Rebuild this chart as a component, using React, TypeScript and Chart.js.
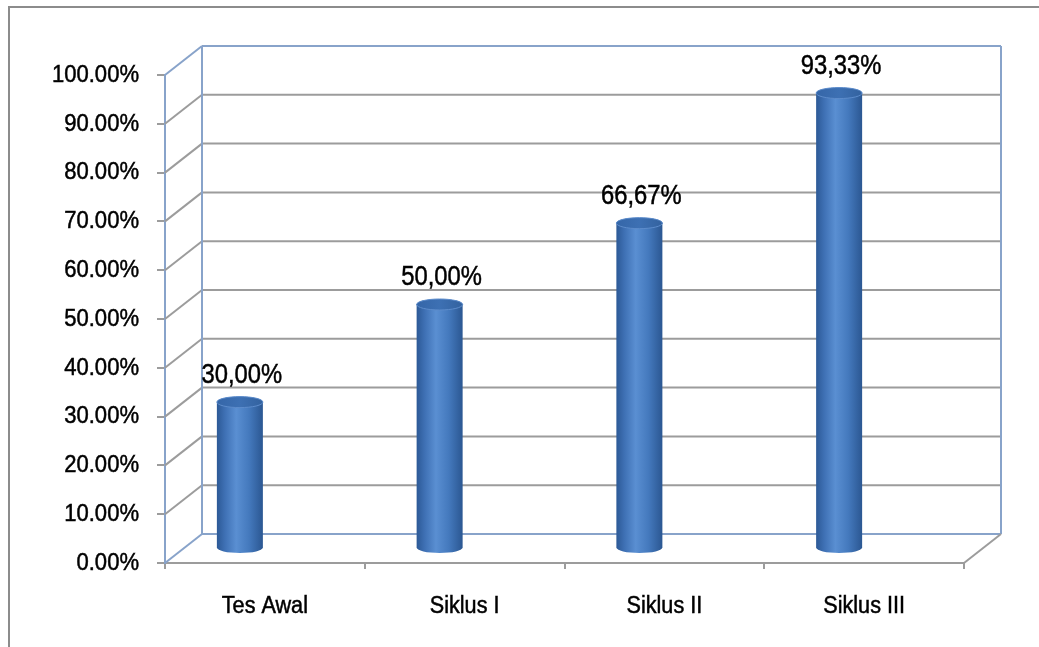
import { useEffect, useRef } from "react";
import { Chart, registerables } from "chart.js";

Chart.register(...registerables);

// Percentage of students reaching the target, per test round
const categories = ["Tes Awal", "Siklus I", "Siklus II", "Siklus III"];
const percentages = [30.0, 50.0, 66.67, 93.33];

// Value axis
const axisMin = 0;
const axisMax = 100;
const axisStep = 10;

const FONT = '"Liberation Sans", Arial, sans-serif';

// Pseudo-3D look: offset of the back wall relative to the front plane
const DEPTH_X = 37;
const DEPTH_Y = -29;
// Cylinders stand half-way into the box, slightly left of the slot centre
const BAR_SHIFT_X = -25;
const CAP_RY = 5.5;

const GRID_GREY = "#9c9c9c";
const EDGE_BLUE = "#88a3ca";
const FRAME_GREY = "#8c8c8c";

const fmtAxis = (v: number) => v.toFixed(2) + "%";
const fmtLabel = (v: number) => v.toFixed(2).replace(".", ",") + "%";

function line(ctx: CanvasRenderingContext2D, x1: number, y1: number, x2: number, y2: number) {
  ctx.beginPath();
  ctx.moveTo(x1, y1);
  ctx.lineTo(x2, y2);
  ctx.stroke();
}

// Narrow text: regular face squeezed horizontally, lightly outlined for weight
function narrowText(
  ctx: CanvasRenderingContext2D,
  text: string,
  x: number,
  y: number,
  size: number,
  squeeze: number,
  align: CanvasTextAlign
) {
  ctx.save();
  ctx.translate(x, y);
  ctx.scale(squeeze, 1);
  ctx.font = `${size}px ${FONT}`;
  ctx.fillStyle = "#000000";
  ctx.strokeStyle = "#000000";
  ctx.lineWidth = 0.5;
  ctx.textAlign = align;
  ctx.textBaseline = "middle";
  ctx.fillText(text, 0, 0);
  ctx.strokeText(text, 0, 0);
  ctx.restore();
}

const boxPlugin = {
  id: "box3d",
  beforeDraw(chart: any) {
    const ctx: CanvasRenderingContext2D = chart.ctx;
    ctx.save();
    ctx.strokeStyle = FRAME_GREY;
    ctx.lineWidth = 2;
    ctx.beginPath();
    ctx.moveTo(9, chart.height);
    ctx.lineTo(9, 7);
    ctx.lineTo(chart.width, 7);
    ctx.stroke();
    ctx.restore();
  },
  beforeDatasetsDraw(chart: any) {
    const ctx: CanvasRenderingContext2D = chart.ctx;
    const xs = chart.scales.x;
    const ys = chart.scales.y;
    const l = xs.left;
    const r = xs.right;
    const t = ys.top;
    const b = ys.bottom;
    ctx.save();
    ctx.lineWidth = 2;
    ys.ticks.forEach((tk: any) => {
      const py = ys.getPixelForValue(tk.value);
      const edge = tk.value === axisMin || tk.value === axisMax;
      ctx.strokeStyle = edge ? EDGE_BLUE : GRID_GREY;
      line(ctx, l, py, l + DEPTH_X, py + DEPTH_Y);
      line(ctx, l + DEPTH_X, py + DEPTH_Y, r + DEPTH_X, py + DEPTH_Y);
    });
    ctx.strokeStyle = EDGE_BLUE;
    line(ctx, l + DEPTH_X, t + DEPTH_Y, l + DEPTH_X, b + DEPTH_Y);
    line(ctx, r + DEPTH_X, t + DEPTH_Y, r + DEPTH_X, b + DEPTH_Y);
    ctx.strokeStyle = GRID_GREY;
    line(ctx, r, b, r + DEPTH_X, b + DEPTH_Y);
    ctx.restore();
  },
  afterDraw(chart: any) {
    const ctx: CanvasRenderingContext2D = chart.ctx;
    const xs = chart.scales.x;
    const ys = chart.scales.y;
    // value axis labels
    ys.ticks.forEach((tk: any, i: number) => {
      narrowText(ctx, fmtAxis(tk.value), ys.right - 26, ys.getPixelForTick(i), 24.5, 0.9, "right");
    });
    // category labels
    xs.ticks.forEach((_tk: any, i: number) => {
      narrowText(ctx, String(chart.data.labels[i]), xs.getPixelForTick(i), xs.top + 44, 23.5, 0.92, "center");
    });
  },
};

function cylinderGeometry(el: any) {
  const p = el.getProps(["x", "y", "base", "width"], true);
  const cx = p.x + BAR_SHIFT_X;
  const rx = p.width / 2;
  const top = p.y + DEPTH_Y / 2;
  const base = p.base + DEPTH_Y / 2;
  return { cx, rx, top, base };
}

const cylinderPlugin = {
  id: "cylinders",
  beforeDatasetDraw(chart: any, args: any) {
    const ctx: CanvasRenderingContext2D = chart.ctx;
    args.meta.data.forEach((el: any) => {
      const { cx, rx, top, base } = cylinderGeometry(el);
      ctx.save();
      const g = ctx.createLinearGradient(cx - rx, 0, cx + rx, 0);
      g.addColorStop(0, "#2c5996");
      g.addColorStop(0.18, "#3f71b5");
      g.addColorStop(0.42, "#5a8fd2");
      g.addColorStop(0.7, "#4479bd");
      g.addColorStop(1, "#2b5792");
      ctx.fillStyle = g;
      ctx.beginPath();
      ctx.moveTo(cx - rx, top);
      ctx.lineTo(cx - rx, base);
      ctx.ellipse(cx, base, rx, CAP_RY, 0, Math.PI, 0, true);
      ctx.lineTo(cx + rx, top);
      ctx.ellipse(cx, top, rx, CAP_RY, 0, 0, Math.PI, true);
      ctx.closePath();
      ctx.fill();

      const cg = ctx.createLinearGradient(cx - rx, 0, cx + rx, 0);
      cg.addColorStop(0, "#3566a8");
      cg.addColorStop(0.5, "#3d70b3");
      cg.addColorStop(1, "#33629f");
      ctx.fillStyle = cg;
      ctx.beginPath();
      ctx.ellipse(cx, top, rx, CAP_RY, 0, 0, Math.PI * 2);
      ctx.fill();
      ctx.strokeStyle = "#5d8ccb";
      ctx.lineWidth = 1;
      ctx.stroke();
      ctx.restore();
    });
    return false;
  },
  afterDatasetsDraw(chart: any) {
    const ctx: CanvasRenderingContext2D = chart.ctx;
    const meta = chart.getDatasetMeta(0);
    const values = chart.data.datasets[0].data as number[];
    meta.data.forEach((el: any, i: number) => {
      const { cx, top } = cylinderGeometry(el);
      narrowText(ctx, fmtLabel(values[i]), cx + 2, top - 27, 28, 0.85, "center");
    });
  },
};

export default function App() {
  const canvasRef = useRef<HTMLCanvasElement | null>(null);

  useEffect(() => {
    const canvas = canvasRef.current;
    if (!canvas) return;
    const chart = new Chart(canvas, {
      type: "bar",
      data: {
        labels: categories,
        datasets: [
          {
            data: percentages,
            backgroundColor: "#4a7ebf",
            barThickness: 46,
          },
        ],
      },
      options: {
        animation: false,
        responsive: false,
        events: [],
        layout: { padding: { top: 75, right: 75, left: 0, bottom: 0 } },
        plugins: {
          legend: { display: false },
          tooltip: { enabled: false },
        },
        scales: {
          x: {
            offset: true,
            afterFit: (scale: any) => {
              scale.height = 84;
            },
            grid: {
              offset: true,
              drawOnChartArea: false,
              drawTicks: true,
              tickLength: 6,
              color: GRID_GREY,
              lineWidth: 2,
            },
            border: { display: true, color: GRID_GREY, width: 2 },
            ticks: { display: false },
          },
          y: {
            min: axisMin,
            max: axisMax,
            afterFit: (scale: any) => {
              scale.width = 165;
            },
            grid: {
              drawOnChartArea: false,
              drawTicks: true,
              tickLength: 8,
              color: GRID_GREY,
              lineWidth: 2,
            },
            border: { display: true, color: EDGE_BLUE, width: 2 },
            ticks: { stepSize: axisStep, display: false },
          },
        },
      },
      plugins: [boxPlugin, cylinderPlugin],
    });
    return () => chart.destroy();
  }, []);

  return (
    <div style={{ position: "absolute", left: 0, top: 0, width: 1039, height: 647, background: "#ffffff" }}>
      <canvas ref={canvasRef} width={1039} height={647} style={{ display: "block" }} />
    </div>
  );
}
